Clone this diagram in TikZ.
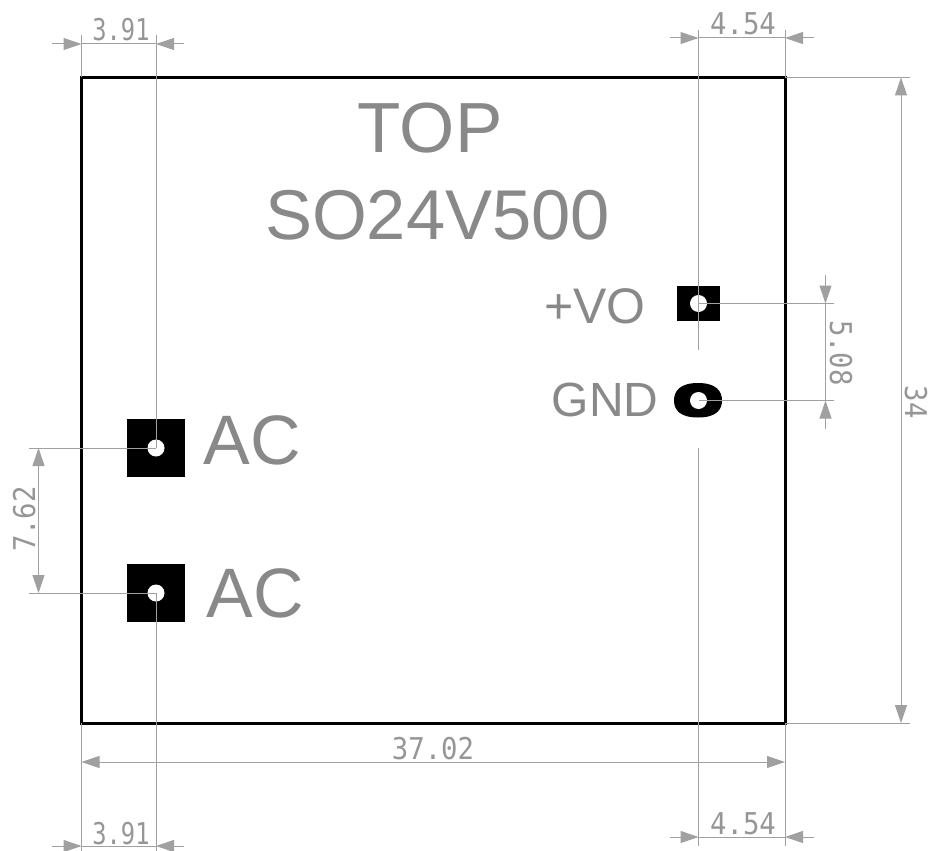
\documentclass[tikz,border=0pt]{standalone}
\usepackage{fontspec}
\setmainfont{Liberation Sans}
\newfontfamily\dimfont[FakeStretch=0.91]{DejaVu Sans Mono}
\newfontfamily\dimfontn[FakeStretch=0.79]{DejaVu Sans Mono}
\usetikzlibrary{arrows.meta}
\definecolor{labelgray}{RGB}{137,137,137}
\definecolor{dimgray}{RGB}{160,160,160}
\definecolor{dimtext}{RGB}{150,150,150}
\tikzset{
  x=1pt,y=-1pt,
  outline/.style={draw=black,line width=3pt,line join=miter},
  padsq/.style={fill=black,draw=none,inner sep=0pt,minimum width=#1,minimum height=#1},
  hole/.style={circle,fill=white,draw=none,inner sep=0pt,minimum size=#1},
  biglabel/.style={text=labelgray,inner sep=0pt,anchor=base,font=\fontsize{#1}{#1}\selectfont},
  dimlabel/.style={text=dimtext,inner sep=0pt,anchor=base,font=\dimfont\fontsize{30}{30}\selectfont},
  dimlabeln/.style={text=dimtext,inner sep=0pt,anchor=base,font=\dimfontn\fontsize{30}{30}\selectfont},
  extline/.style={draw=dimgray,line width=1pt},
  dimarrow/.style={draw=dimgray,line width=1pt,-{Triangle[length=18pt,width=12pt]}},
  dimboth/.style={draw=dimgray,line width=1pt,{Triangle[length=18pt,width=12pt]}-{Triangle[length=18pt,width=12pt]}},
}
\begin{document}
\begin{tikzpicture}
\useasboundingbox (0,0) rectangle (930,851);
% board
\coordinate (tl) at (81.5,77.5);
\coordinate (tr) at (785,77.5);
\coordinate (bl) at (81.5,723);
\coordinate (br) at (785,723);
\draw[outline] (tl) -- (tr) -- (br) -- (bl) -- cycle;
% pads
\node[padsq=58pt] (ac1) at (156,448) {};
\node[padsq=58pt] (ac2) at (156,593) {};
\node[fill=black,inner sep=0pt,minimum width=43pt,minimum height=35pt] (vo) at (698.5,303.5) {};
\fill[black] (698,383) .. controls (716,383) and (722,391) .. (722,400.5)
  .. controls (722,410) and (716,417.5) .. (698,417.5)
  .. controls (680,417.5) and (674,410) .. (674,400.5)
  .. controls (674,391) and (680,383) .. (698,383) -- cycle;
\node[hole=17pt] (ac1h) at (156,448) {};
\node[hole=17pt] (ac2h) at (156,593) {};
\node[hole=17pt] (voh) at (698.5,303.5) {};
\node[hole=17pt] (gndh) at (698.5,400.5) {};
% big labels
\node[biglabel=71] (ttop) at (430,152) {TOP};
\node[biglabel=70.5] (tname) at (437.5,239) {SO24V500};
\node[biglabel=50] (tvo) at (595,323.5) {+VO};
\node[biglabel=48] (tgnd) at (605,416) {GND};
\node[biglabel=70] (tac1) at (252.5,464) {AC};
\node[biglabel=70] (tac2) at (255.5,617) {AC};
% anchor points of the dimension lines
\coordinate (e1a) at (81.5,35);
\coordinate (e1b) at (156,35);
\coordinate (e2a) at (81.5,851);
\coordinate (e2b) at (156,851);
\coordinate (e3a) at (698.5,30);
\coordinate (e3b) at (785,30);
\coordinate (e3c) at (698.5,350);
\coordinate (e4a) at (698.5,448);
\coordinate (e4b) at (698.5,846);
\coordinate (e4c) at (785,846);
\coordinate (e5a) at (910,77.5);
\coordinate (e5b) at (910,723);
\coordinate (e6a) at (834,303.5);
\coordinate (e6b) at (834,400.5);
\coordinate (e7a) at (29,448);
\coordinate (e7b) at (29,593);
% extension lines
\draw[extline] (e1a) -- (tl);
\draw[extline] (e1b) -- (ac1h.center);
\draw[extline] (bl) -- (e2a);
\draw[extline] (ac2h.center) -- (e2b);
\draw[extline] (e3a) -- (e3c);
\draw[extline] (e3b) -- (tr);
\draw[extline] (e4a) -- (e4b);
\draw[extline] (br) -- (e4c);
\draw[extline] (tr) -- (e5a);
\draw[extline] (br) -- (e5b);
\draw[extline] (voh.center) -- (e6a);
\draw[extline] (gndh.center) -- (e6b);
\draw[extline] (e7a) -- (ac1h.center);
\draw[extline] (e7b) -- (ac2h.center);
% top 3.91
\coordinate (d1l) at (52,44); \coordinate (d1a) at (81.5,44);
\coordinate (d1b) at (156,44); \coordinate (d1r) at (184,44);
\draw[dimarrow] (d1l) -- (d1a);
\draw[dimarrow] (d1r) -- (d1b);
\draw[extline] (d1a) -- (d1b);
\node[dimlabeln] (l1) at (121,41) {3.91};
% bottom 3.91
\coordinate (d2l) at (52,846); \coordinate (d2a) at (81.5,846);
\coordinate (d2b) at (156,846); \coordinate (d2r) at (184,846);
\draw[dimarrow] (d2l) -- (d2a);
\draw[dimarrow] (d2r) -- (d2b);
\draw[extline] (d2a) -- (d2b);
\node[dimlabeln] (l2) at (121,844) {3.91};
% top 4.54
\coordinate (d3l) at (670,38); \coordinate (d3a) at (698.5,38);
\coordinate (d3b) at (785,38); \coordinate (d3r) at (814,38);
\draw[dimarrow] (d3l) -- (d3a);
\draw[dimarrow] (d3r) -- (d3b);
\draw[extline] (d3a) -- (d3b);
\node[dimlabel] (l3) at (743,35) {4.54};
% bottom 4.54
\coordinate (d4l) at (670,837); \coordinate (d4a) at (698.5,837);
\coordinate (d4b) at (785,837); \coordinate (d4r) at (814,837);
\draw[dimarrow] (d4l) -- (d4a);
\draw[dimarrow] (d4r) -- (d4b);
\draw[extline] (d4a) -- (d4b);
\node[dimlabel] (l4) at (743,834) {4.54};
% 37.02
\coordinate (d5a) at (81.5,762); \coordinate (d5b) at (785,762);
\draw[dimboth] (d5a) -- (d5b);
\node[dimlabel] (l5) at (433,759) {37.02};
% 34
\coordinate (d6a) at (901,77.5); \coordinate (d6b) at (901,723);
\draw[dimboth] (d6a) -- (d6b);
\node[dimlabel,rotate=-90] (l6) at (905,402) {34};
% 5.08
\coordinate (d7t) at (825.5,275); \coordinate (d7a) at (825.5,303.5);
\coordinate (d7b) at (825.5,400.5); \coordinate (d7e) at (825.5,429);
\draw[dimarrow] (d7t) -- (d7a);
\draw[dimarrow] (d7e) -- (d7b);
\draw[extline] (d7a) -- (d7b);
\node[dimlabel,rotate=-90] (l7) at (830,353) {5.08};
% 7.62
\coordinate (d8a) at (38.5,448); \coordinate (d8b) at (38.5,593);
\draw[dimboth] (d8a) -- (d8b);
\node[dimlabel,rotate=90] (l8) at (35,519) {7.62};
\end{tikzpicture}
\end{document}
